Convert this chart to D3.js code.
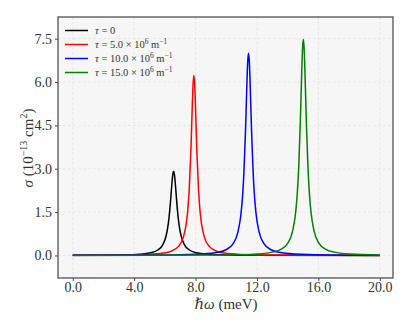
<!DOCTYPE html>
<html>
<head>
<meta charset="utf-8">
<script src="https://cdn.jsdelivr.net/npm/d3@7"></script>
<style>
  body { margin: 0; background: #fff; }
  svg text { font-family: "Liberation Serif", "DejaVu Serif", serif; fill: #333; }
</style>
</head>
<body>
<svg id="chart" width="412" height="330"></svg>
<script>
// values (energy in meV, sigma in 1e-13 cm^2)
const blackX = [0, 1.57, 3.57, 4.57, 5.07, 5.57, 5.87, 6.07, 6.17, 6.27, 6.37, 6.42, 6.47, 6.52, 6.57, 6.62, 6.67, 6.72, 6.77, 6.87, 6.97, 7.07, 7.27, 7.57, 8.07, 8.57, 9.57, 11.57, 20];
const blackY = [0.005, 0.008, 0.023, 0.052, 0.091, 0.198, 0.377, 0.657, 0.911, 1.302, 1.879, 2.224, 2.559, 2.813, 2.91, 2.813, 2.559, 2.224, 1.879, 1.302, 0.911, 0.657, 0.377, 0.198, 0.091, 0.052, 0.023, 0.008, 0.001];

const redX = [0, 2.89, 4.89, 5.89, 6.39, 6.89, 7.19, 7.39, 7.49, 7.59, 7.69, 7.74, 7.79, 7.84, 7.89, 7.94, 7.99, 8.04, 8.09, 8.19, 8.29, 8.39, 8.59, 8.89, 9.39, 9.89, 10.89, 12.89, 20];
const redY = [0.005, 0.013, 0.036, 0.081, 0.143, 0.313, 0.607, 1.088, 1.548, 2.307, 3.548, 4.371, 5.240, 5.949, 6.23, 5.949, 5.240, 4.371, 3.548, 2.307, 1.548, 1.088, 0.607, 0.313, 0.143, 0.081, 0.036, 0.013, 0.002];

const blueX = [0, 6.45, 8.45, 9.45, 9.95, 10.45, 10.75, 10.95, 11.05, 11.15, 11.25, 11.3, 11.35, 11.4, 11.45, 11.5, 11.55, 11.6, 11.65, 11.75, 11.85, 11.95, 12.15, 12.45, 12.95, 13.45, 14.45, 16.45, 20];
const blueY = [0.003, 0.017, 0.048, 0.108, 0.189, 0.412, 0.792, 1.400, 1.966, 2.869, 4.268, 5.147, 6.034, 6.731, 7.0, 6.731, 6.034, 5.147, 4.268, 2.869, 1.966, 1.400, 0.792, 0.412, 0.189, 0.108, 0.048, 0.017, 0.006];

const greenX = [0, 10.02, 12.02, 13.02, 13.52, 14.02, 14.32, 14.52, 14.62, 14.72, 14.82, 14.87, 14.92, 14.97, 15.02, 15.07, 15.12, 15.17, 15.22, 15.32, 15.42, 15.52, 15.72, 16.02, 16.52, 17.02, 18.02, 20];
const greenY = [0.002, 0.019, 0.052, 0.115, 0.202, 0.439, 0.845, 1.494, 2.098, 3.061, 4.555, 5.493, 6.440, 7.183, 7.47, 7.183, 6.440, 5.493, 4.555, 3.061, 2.098, 1.494, 0.845, 0.439, 0.202, 0.115, 0.052, 0.019];

const xTicks = [0, 4, 8, 12, 16, 20];
const yTicks = [0, 1.5, 3, 4.5, 6, 7.5];
const legendLabels = ["0", "5.0", "10.0", "15.0"];

const series = [
  { xs: blackX, ys: blackY, color: "#000000" },
  { xs: redX, ys: redY, color: "#ff0000" },
  { xs: blueX, ys: blueY, color: "#0000ff" },
  { xs: greenX, ys: greenY, color: "#008000" }
];

const margin = { top: 17, right: 19, bottom: 52, left: 58 };
const width = 412, height = 330;

const svg = d3.select("#chart");

const x = d3.scaleLinear().domain([-0.96, 20.86]).range([margin.left, width - margin.right]);
const y = d3.scaleLinear().domain([-0.78, 8.25]).range([height - margin.bottom, margin.top]);

// plot background
svg.append("rect")
  .attr("x", margin.left).attr("y", margin.top)
  .attr("width", width - margin.left - margin.right)
  .attr("height", height - margin.top - margin.bottom)
  .attr("fill", "#f6f6f6");

// grid
const grid = svg.append("g").attr("stroke", "#e4e4e4").attr("stroke-width", 0.8).attr("stroke-dasharray", "3,2");
grid.selectAll(".gx").data(xTicks).enter().append("line")
  .attr("x1", d => x(d)).attr("x2", d => x(d))
  .attr("y1", margin.top).attr("y2", height - margin.bottom);
grid.selectAll(".gy").data(yTicks).enter().append("line")
  .attr("y1", d => y(d)).attr("y2", d => y(d))
  .attr("x1", margin.left).attr("x2", width - margin.right);

// curves
const line = d3.line().x(d => x(d[0])).y(d => y(d[1])).curve(d3.curveMonotoneX);
series.forEach(s => {
  svg.append("path")
    .datum(s.xs.map((v, i) => [v, s.ys[i]]))
    .attr("fill", "none")
    .attr("stroke", s.color)
    .attr("stroke-width", 1.5)
    .attr("stroke-linejoin", "round")
    .attr("d", line);
});

// axes
const xAxis = svg.append("g")
  .attr("transform", `translate(0,${height - margin.bottom})`)
  .call(d3.axisBottom(x).tickValues(xTicks).tickFormat(d3.format(".1f")).tickSize(3).tickPadding(1));
const yAxis = svg.append("g")
  .attr("transform", `translate(${margin.left},0)`)
  .call(d3.axisLeft(y).tickValues(yTicks).tickFormat(d3.format(".1f")).tickSize(3).tickPadding(3));
[xAxis, yAxis].forEach(a => {
  a.select(".domain").remove();
  a.selectAll(".tick line").attr("stroke", "#444");
  a.selectAll(".tick text").attr("font-size", 14).attr("fill", "#333")
    .style("font-family", '"Liberation Serif", serif');
});

// frame
svg.append("rect")
  .attr("x", margin.left).attr("y", margin.top)
  .attr("width", width - margin.left - margin.right)
  .attr("height", height - margin.top - margin.bottom)
  .attr("fill", "none").attr("stroke", "#444").attr("stroke-width", 1.2);

// axis labels
const xl = svg.append("text")
  .attr("x", (margin.left + width - margin.right) / 2 + 0.5)
  .attr("y", 309)
  .attr("text-anchor", "middle")
  .attr("font-size", 15);
xl.append("tspan").attr("font-style", "italic").text("ℏω");
xl.append("tspan").text(" (meV)");

const yl = svg.append("text")
  .attr("transform", "translate(33,148) rotate(-90)")
  .attr("text-anchor", "middle")
  .attr("font-size", 15);
yl.append("tspan").attr("font-style", "italic").text("σ");
yl.append("tspan").text(" (10");
yl.append("tspan").attr("font-size", 10).attr("dy", -6).text("−13");
yl.append("tspan").attr("dy", 6).text(" cm");
yl.append("tspan").attr("font-size", 10).attr("dy", -6).text("2");
yl.append("tspan").attr("dy", 6).text(")");

// legend
const legend = svg.append("g");
series.forEach((s, i) => {
  const ly = 30.5 + i * 14;
  legend.append("line")
    .attr("x1", 65).attr("x2", 88).attr("y1", ly).attr("y2", ly)
    .attr("stroke", s.color).attr("stroke-width", 1.5);
  const t = legend.append("text")
    .attr("x", 95).attr("y", ly + 3.5)
    .attr("font-size", 10.5);
  t.append("tspan").attr("font-style", "italic").text("τ");
  if (i === 0) {
    t.append("tspan").text(" = 0");
  } else {
    t.append("tspan").text(` = ${legendLabels[i]} × 10`);
    t.append("tspan").attr("font-size", 7.5).attr("dy", -4).text("6");
    t.append("tspan").attr("dy", 4).text(" m");
    t.append("tspan").attr("font-size", 7.5).attr("dy", -4).text("−1");
  }
});
</script>
</body>
</html>
